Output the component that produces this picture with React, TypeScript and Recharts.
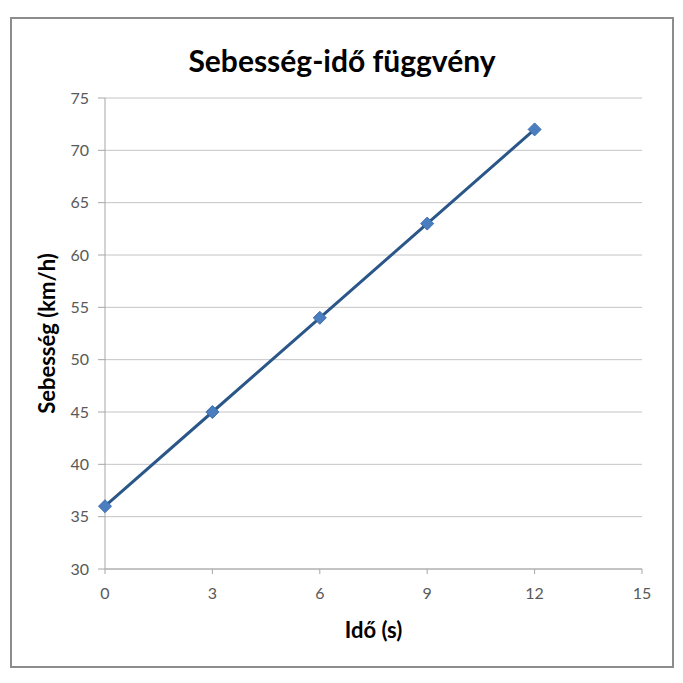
import { CartesianGrid, Label, Line, LineChart, XAxis, YAxis } from "recharts";

const times = [0, 3, 6, 9, 12];
const speeds = [36, 45, 54, 63, 72];
const xTicks = [0, 3, 6, 9, 12, 15];
const yTicks = [30, 35, 40, 45, 50, 55, 60, 65, 70, 75];

const data = times.map((t, i) => ({ t, v: speeds[i] }));

const FONT = "Lato, 'Open Sans', sans-serif";

function Diamond(props: any) {
  const { cx, cy } = props;
  if (cx == null || cy == null) return null;
  const r = 6.5;
  return (
    <path
      d={`M${cx},${cy - r}L${cx + r},${cy}L${cx},${cy + r}L${cx - r},${cy}Z`}
      fill="#4a7ebf"
      stroke="#3f70ad"
      strokeWidth={1}
    />
  );
}

export default function App() {
  return (
    <div
      style={{
        position: "relative",
        width: 660,
        height: 647,
        margin: "9px 0 0 2px",
        border: "2px solid #8c8c8c",
        background: "#fff",
        fontFamily: FONT,
      }}
    >
      <div
        style={{
          position: "absolute",
          top: 21,
          left: 0,
          width: 660,
          textAlign: "center",
          fontSize: 30,
          fontWeight: 700,
          color: "#000",
          lineHeight: "40px",
        }}
      >
        Sebesség-idő függvény
      </div>
      <LineChart
        width={660}
        height={647}
        data={data}
        margin={{ top: 79, right: 30, bottom: 0, left: 0 }}
      >
        <CartesianGrid vertical={false} stroke="#c4c4c4" strokeWidth={1} />
        <XAxis
          dataKey="t"
          type="number"
          domain={[0, 15]}
          ticks={xTicks}
          height={97}
          tickSize={5}
          tickMargin={14}
          stroke="#a6a6a6"
          tick={{ fill: "#595959", fontSize: 16, fontFamily: FONT }}
        >
          <Label
            value="Idő (s)"
            position="center"
            dy={13}
            style={{ fontSize: 22, fontWeight: 700, fill: "#000", fontFamily: FONT }}
          />
        </XAxis>
        <YAxis
          type="number"
          domain={[30, 75]}
          ticks={yTicks}
          width={93}
          tickSize={7}
          tickMargin={9}
          stroke="#a6a6a6"
          tick={{ fill: "#595959", fontSize: 16, fontFamily: FONT }}
        >
          <Label
            value="Sebesség (km/h)"
            position="center"
            angle={-90}
            dx={-11}
            style={{ fontSize: 22, fontWeight: 700, fill: "#000", fontFamily: FONT }}
          />
        </YAxis>
        <Line
          dataKey="v"
          stroke="#2a5788"
          strokeWidth={3}
          dot={<Diamond />}
          activeDot={false}
          isAnimationActive={false}
        />
      </LineChart>
    </div>
  );
}
